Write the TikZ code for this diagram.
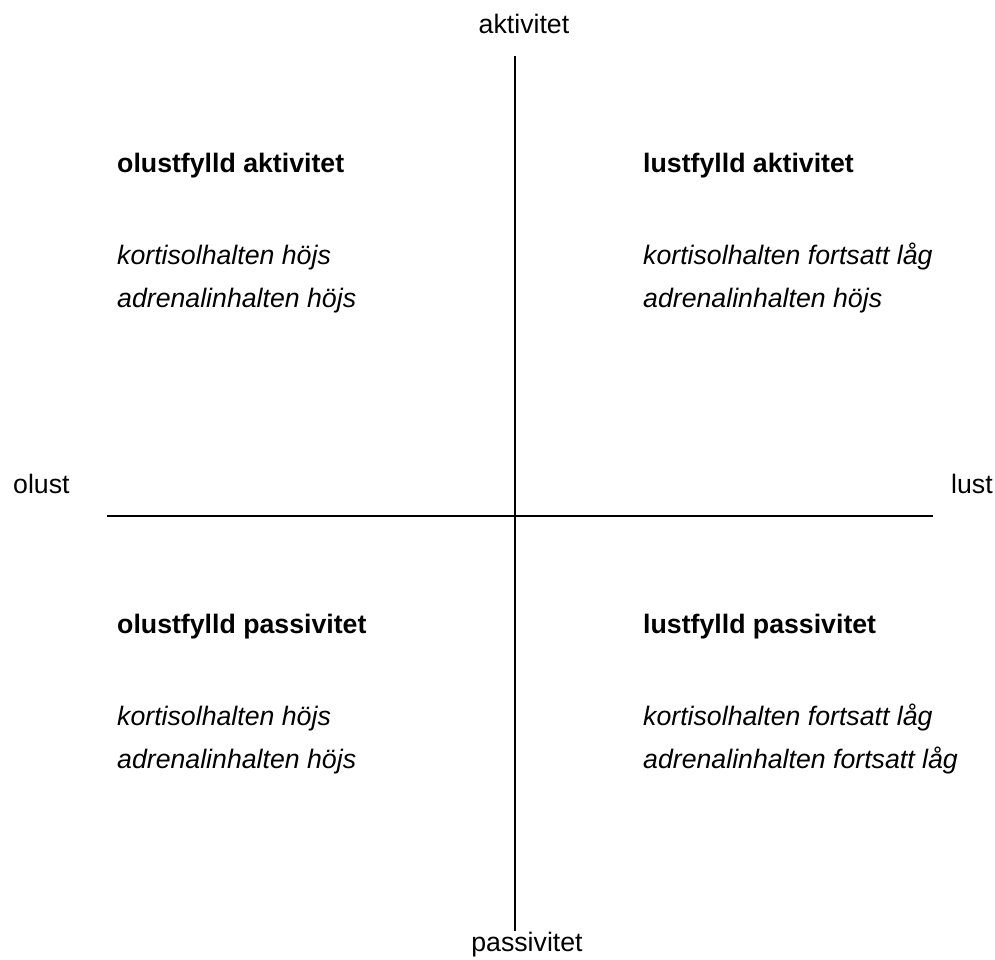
\documentclass[tikz,border=0pt]{standalone}
\usepackage{fontspec}
\setmainfont{Liberation Sans}
\begin{document}
\begin{tikzpicture}[x=1pt,y=-1pt,
  txt/.style={inner sep=0pt,anchor=base west,font=\fontsize{26.7}{30}\selectfont},
  axlbl/.style={inner sep=0pt,anchor=base,font=\fontsize{26.7}{30}\selectfont},
  ttl/.style={txt,font=\fontsize{26.7}{30}\selectfont\bfseries},
  itl/.style={txt,font=\fontsize{26.7}{30}\selectfont\itshape},
  axis/.style={line width=1.6pt}]
\useasboundingbox (0,0) rectangle (995,960);
% axis end points
\coordinate (vt) at (515,56);
\coordinate (vb) at (515,931);
\coordinate (hl) at (107,516);
\coordinate (hr) at (933,516);
\draw[axis] (vt) -- (vb);
\draw[axis] (hl) -- (hr);
% axis labels
\node[axlbl] (akt) at (524,34) {aktivitet};
\node[axlbl] (pas) at (527,951) {passivitet};
\node[txt] (olust) at (13,493) {olust};
\node[txt] (lust) at (951,493) {lust};
% quadrants
\node[ttl] (q1t) at (117,172) {olustfylld aktivitet};
\node[itl] (q1a) at (117,264) {kortisolhalten höjs};
\node[itl] (q1b) at (117,307) {adrenalinhalten höjs};
\node[ttl] (q2t) at (643,172) {lustfylld aktivitet};
\node[itl] (q2a) at (643,264) {kortisolhalten fortsatt låg};
\node[itl] (q2b) at (643,307) {adrenalinhalten höjs};
\node[ttl] (q3t) at (117,633) {olustfylld passivitet};
\node[itl] (q3a) at (117,725) {kortisolhalten höjs};
\node[itl] (q3b) at (117,768) {adrenalinhalten höjs};
\node[ttl] (q4t) at (643,633) {lustfylld passivitet};
\node[itl] (q4a) at (643,725) {kortisolhalten fortsatt låg};
\node[itl] (q4b) at (643,768) {adrenalinhalten fortsatt låg};
\end{tikzpicture}
\end{document}
